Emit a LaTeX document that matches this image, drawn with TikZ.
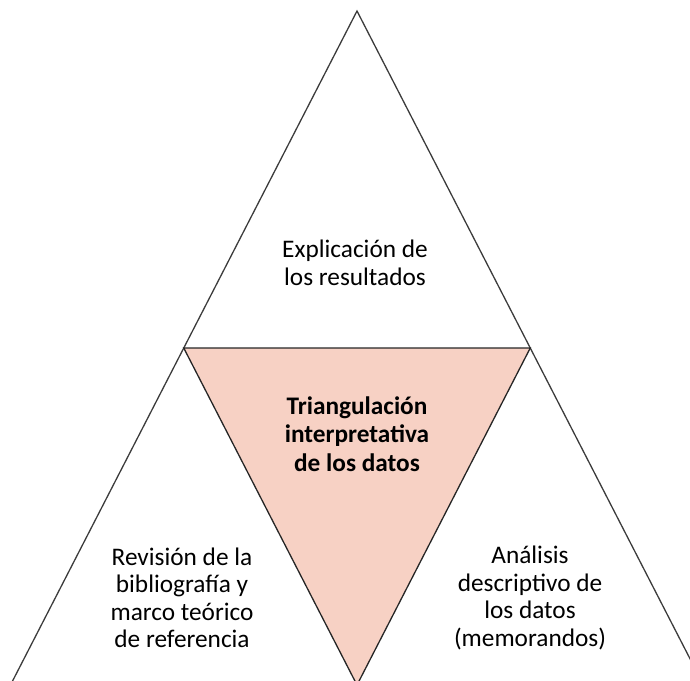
\documentclass[tikz,border=0pt]{standalone}
\usepackage{fontspec}
\usetikzlibrary{calc}
\setmainfont{Carlito}
\definecolor{pinkfill}{RGB}{247,209,196}
\definecolor{edgegray}{RGB}{60,60,60}
\begin{document}
\begin{tikzpicture}[x=1pt,y=-1pt,
  edge/.style={draw=edgegray,line width=1.3pt},
  lbl/.style={align=center,font=\fontsize{25.3}{27.5}\selectfont,text=black,inner sep=0pt},
  blbl/.style={lbl,font=\fontsize{25.3}{28.5}\selectfont\bfseries}]
\useasboundingbox (0,0) rectangle (690,680);
\clip (0,0) rectangle (690,680);
\coordinate (apex) at (357,11);
\coordinate (bl) at (10.5,685);
\coordinate (br) at (703.5,685);
\coordinate (ml) at ($(apex)!0.5!(bl)$);
\coordinate (mr) at ($(apex)!0.5!(br)$);
\coordinate (mb) at ($(bl)!0.5!(br)$);
\fill[pinkfill] (ml) -- (mr) -- (mb) -- cycle;
\draw[edge] (bl) -- (apex) -- (br);
\draw[edge,draw=black!85] (ml) -- (mr) -- (mb) -- cycle;
\node[lbl] (top) at (355,263) {Explicación de\\los resultados};
\node[blbl] (mid) at (357,434) {Triangulación\\interpretativa\\de los datos};
\node[lbl] (left) at (182,598) {Revisión de la\\bibliografía y\\marco teórico\\de referencia};
\node[lbl] (right) at (530,598) {Análisis\\descriptivo de\\los datos\\(memorandos)};
\end{tikzpicture}
\end{document}
